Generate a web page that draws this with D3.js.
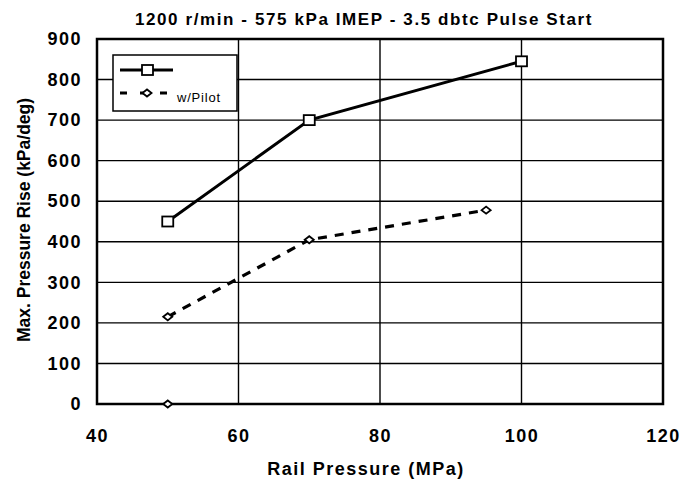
<!DOCTYPE html>
<html>
<head>
<meta charset="utf-8">
<script src="https://cdn.jsdelivr.net/npm/d3@7"></script>
<style>
  body { margin: 0; background: #fff; }
  svg { font-family: "Liberation Sans", Arial, sans-serif; }
</style>
</head>
<body>
<svg id="chart" width="693" height="485"></svg>
<script>
// data
const railPressure = [50, 70, 100];
const noPilotRise = [450, 700, 845];
const pilotPressure = [50, 70, 95];
const pilotRise = [215, 405, 478];
const strayPressure = [50];
const strayRise = [0];
const xTicks = [40, 60, 80, 100, 120];
const yTicks = [0, 100, 200, 300, 400, 500, 600, 700, 800, 900];

const svg = d3.select("#chart");
const margin = { left: 97, right: 30, top: 39, bottom: 81 };
const width = 693 - margin.left - margin.right;
const height = 485 - margin.top - margin.bottom;

const x = d3.scaleLinear().domain([40, 120]).range([0, width]);
const y = d3.scaleLinear().domain([0, 900]).range([height, 0]);

// small flat diamond, a bit wider than tall like the scan
const flatDiamond = {
    draw(ctx, size) {
        const w = Math.sqrt(size) * 0.7, h = Math.sqrt(size) * 0.55;
        ctx.moveTo(-w, 0);
        ctx.lineTo(0, -h);
        ctx.lineTo(w, 0);
        ctx.lineTo(0, h);
        ctx.closePath();
    }
};
const diamond = d3.symbol().type(flatDiamond).size(42);

const g = svg.append("g")
    .attr("transform", "translate(" + margin.left + "," + margin.top + ")");

// horizontal grid
g.append("g")
    .selectAll("line")
    .data(yTicks.slice(1))
    .enter()
    .append("line")
    .attr("x1", 0).attr("x2", width)
    .attr("y1", d => y(d)).attr("y2", d => y(d))
    .attr("stroke", "#000").attr("stroke-width", 1.4);

// vertical grid
g.append("g")
    .selectAll("line")
    .data(xTicks.slice(1, -1))
    .enter()
    .append("line")
    .attr("y1", 0).attr("y2", height)
    .attr("x1", d => x(d)).attr("x2", d => x(d))
    .attr("stroke", "#000").attr("stroke-width", 1.4);

// frame
g.append("rect")
    .attr("width", width).attr("height", height)
    .attr("fill", "none").attr("stroke", "#000").attr("stroke-width", 2.5);

// axes
const xAxis = g.append("g")
    .attr("transform", "translate(0," + height + ")")
    .call(d3.axisBottom(x).tickValues(xTicks).tickSize(0).tickPadding(25));
const yAxis = g.append("g")
    .call(d3.axisLeft(y).tickValues(yTicks).tickSize(0).tickPadding(15));
[xAxis, yAxis].forEach(a => {
    a.select(".domain").remove();
    a.selectAll("text")
        .attr("font-size", 18)
        .attr("font-weight", "bold")
        .attr("letter-spacing", 1.5)
        .attr("font-family", "'Liberation Sans', Arial, sans-serif")
        .attr("fill", "#000");
});

const line = d3.line().x(d => x(d[0])).y(d => y(d[1]));

const solidData = d3.zip(railPressure, noPilotRise);
const dashData = d3.zip(pilotPressure, pilotRise);

g.append("path")
    .datum(solidData)
    .attr("d", line)
    .attr("fill", "none").attr("stroke", "#000").attr("stroke-width", 3);

g.append("path")
    .datum(dashData)
    .attr("d", line)
    .attr("fill", "none").attr("stroke", "#000").attr("stroke-width", 3.2)
    .attr("stroke-dasharray", "9,8");

g.append("g")
    .selectAll("rect")
    .data(solidData)
    .enter()
    .append("rect")
    .attr("x", d => x(d[0]) - 5.5).attr("y", d => y(d[1]) - 5)
    .attr("width", 11).attr("height", 10)
    .attr("fill", "#fff").attr("stroke", "#000").attr("stroke-width", 1.8);

g.append("g")
    .selectAll("path")
    .data(dashData.concat(d3.zip(strayPressure, strayRise)))
    .enter()
    .append("path")
    .attr("d", diamond)
    .attr("transform", d => "translate(" + x(d[0]) + "," + y(d[1]) + ")")
    .attr("fill", "#fff").attr("stroke", "#000").attr("stroke-width", 1.8);

// legend
const leg = svg.append("g").attr("transform", "translate(113,55)");
leg.append("rect")
    .attr("width", 124).attr("height", 56)
    .attr("fill", "#fff").attr("stroke", "#000").attr("stroke-width", 1.5);
leg.append("line")
    .attr("x1", 7).attr("x2", 60).attr("y1", 15).attr("y2", 15)
    .attr("stroke", "#000").attr("stroke-width", 3);
leg.append("rect")
    .attr("x", 29).attr("y", 10).attr("width", 11).attr("height", 10)
    .attr("fill", "#fff").attr("stroke", "#000").attr("stroke-width", 1.8);
leg.append("line")
    .attr("x1", 7).attr("x2", 55).attr("y1", 38).attr("y2", 38)
    .attr("stroke", "#000").attr("stroke-width", 3.2)
    .attr("stroke-dasharray", "7,13");
leg.append("path")
    .attr("d", diamond)
    .attr("transform", "translate(34,38)")
    .attr("fill", "#fff").attr("stroke", "#000").attr("stroke-width", 1.8);
leg.append("text")
    .attr("x", 64).attr("y", 47)
    .attr("font-size", 13)
    .attr("letter-spacing", 0.8)
    .text("w/Pilot");

// titles
svg.append("text")
    .attr("x", 364).attr("y", 25)
    .attr("text-anchor", "middle")
    .attr("font-size", 17).attr("font-weight", "bold")
    .attr("letter-spacing", 1.6)
    .text("1200 r/min - 575 kPa IMEP - 3.5 dbtc Pulse Start");

svg.append("text")
    .attr("x", 366).attr("y", 475)
    .attr("text-anchor", "middle")
    .attr("font-size", 18).attr("font-weight", "bold")
    .attr("letter-spacing", 1.5)
    .text("Rail Pressure (MPa)");

svg.append("text")
    .attr("transform", "translate(30,220) rotate(-90)")
    .attr("text-anchor", "middle")
    .attr("font-size", 17.5).attr("font-weight", "bold")
    .text("Max. Pressure Rise (kPa/deg)");
</script>
</body>
</html>
